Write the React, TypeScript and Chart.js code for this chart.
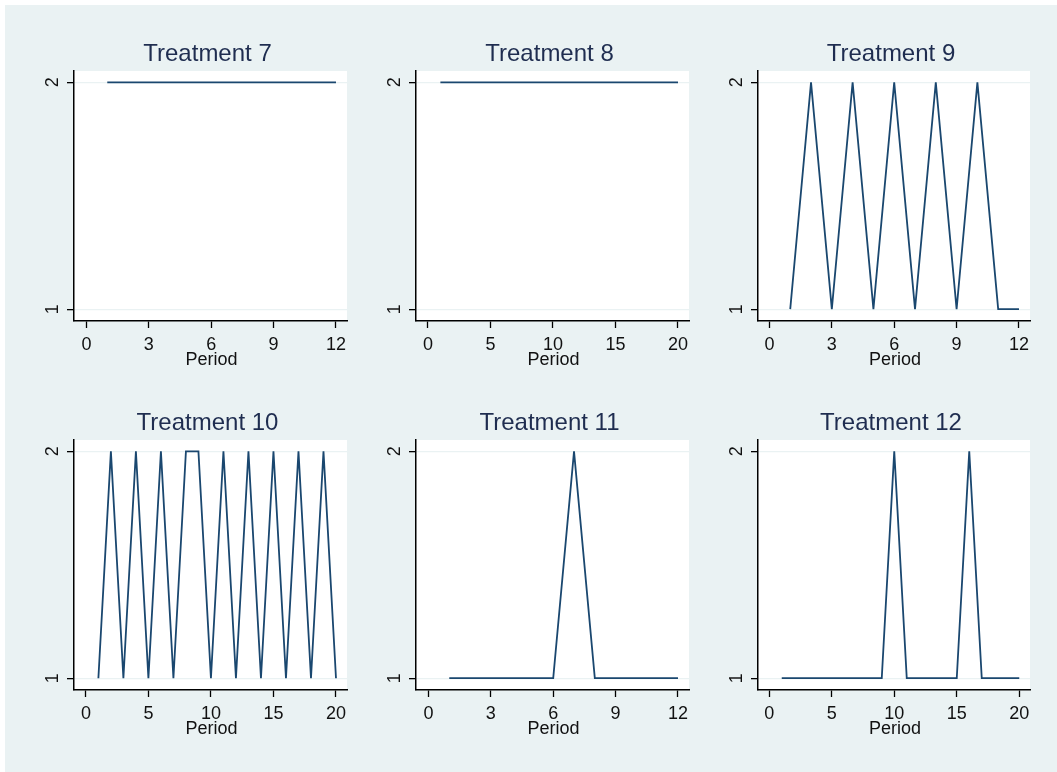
import React, { useEffect, useRef } from "react";
import { Chart, registerables } from "chart.js";

Chart.register(...registerables);

// ---------- data ----------
const periods12 = [1, 2, 3, 4, 5, 6, 7, 8, 9, 10, 11, 12];
const periods20 = [1, 2, 3, 4, 5, 6, 7, 8, 9, 10, 11, 12, 13, 14, 15, 16, 17, 18, 19, 20];

const treatment7 = [2, 2, 2, 2, 2, 2, 2, 2, 2, 2, 2, 2];
const treatment8 = [2, 2, 2, 2, 2, 2, 2, 2, 2, 2, 2, 2, 2, 2, 2, 2, 2, 2, 2, 2];
const treatment9 = [1, 2, 1, 2, 1, 2, 1, 2, 1, 2, 1, 1];
const treatment10 = [1, 2, 1, 2, 1, 2, 1, 2, 2, 1, 2, 1, 2, 1, 2, 1, 2, 1, 2, 1];
const treatment11 = [1, 1, 1, 1, 1, 1, 2, 1, 1, 1, 1, 1];
const treatment12 = [1, 1, 1, 1, 1, 1, 1, 1, 1, 2, 1, 1, 1, 1, 1, 2, 1, 1, 1, 1];

const xTicks12 = [0, 3, 6, 9, 12];
const xTicks20 = [0, 5, 10, 15, 20];
const yTicks = [1, 2];

const panelTitles = ["Treatment 7", "Treatment 8", "Treatment 9", "Treatment 10", "Treatment 11", "Treatment 12"];
const xAxisTitle = "Period";

// ---------- layout / style ----------
const FONT = "'Liberation Sans', Arial, sans-serif";
const BG = "#EAF2F3";
const LINE = "#1a476f";
const colLeft = [74, 416, 758];
const colWidth = [273, 273, 272];
const rowTop = [71, 440];
const rowHeight = [250, 250];
const PAD_L = 60;
const PAD_T = 65;
const PAD_R = 12;
const PAD_B = 60;

type Panel = {
  title: string;
  periods: number[];
  values: number[];
  xTicks: number[];
  xMin: number;
  xMax: number;
  col: number;
  row: number;
};

const panels: Panel[] = [
  { title: panelTitles[0], periods: periods12, values: treatment7, xTicks: xTicks12, xMin: -0.6, xMax: 12.53, col: 0, row: 0 },
  { title: panelTitles[1], periods: periods20, values: treatment8, xTicks: xTicks20, xMin: -0.95, xMax: 20.88, col: 1, row: 0 },
  { title: panelTitles[2], periods: periods12, values: treatment9, xTicks: xTicks12, xMin: -0.55, xMax: 12.53, col: 2, row: 0 },
  { title: panelTitles[3], periods: periods20, values: treatment10, xTicks: xTicks20, xMin: -0.95, xMax: 20.88, col: 0, row: 1 },
  { title: panelTitles[4], periods: periods12, values: treatment11, xTicks: xTicks12, xMin: -0.6, xMax: 12.53, col: 1, row: 1 },
  { title: panelTitles[5], periods: periods20, values: treatment12, xTicks: xTicks20, xMin: -0.9, xMax: 20.86, col: 2, row: 1 },
];

const textPlugin = {
  id: "stataText",
  beforeDraw(chart: any) {
    const { ctx, chartArea } = chart;
    ctx.save();
    ctx.fillStyle = "#ffffff";
    ctx.fillRect(chartArea.left, chartArea.top, chartArea.right - chartArea.left, chartArea.bottom - chartArea.top);
    ctx.restore();
  },
  afterDraw(chart: any) {
    const { ctx, chartArea } = chart;
    const opts = chart.options.plugins.stataText;
    const xs = chart.scales.x;
    const ys = chart.scales.y;
    const cx = (chartArea.left + chartArea.right) / 2;
    ctx.save();
    // title
    ctx.fillStyle = "#1f2d50";
    ctx.font = `24px ${FONT}`;
    ctx.textAlign = "center";
    ctx.textBaseline = "alphabetic";
    ctx.fillText(opts.title, cx - 3, chartArea.top - 10);
    // x tick labels
    ctx.fillStyle = "#111111";
    ctx.font = `18px ${FONT}`;
    xs.ticks.forEach((t: any) => {
      ctx.fillText(String(t.value), xs.getPixelForValue(t.value), chartArea.bottom + 28.5);
    });
    // axis title
    ctx.fillText(xAxisTitle, cx + 1, chartArea.bottom + 44);
    // y tick labels (rotated)
    ys.ticks.forEach((t: any) => {
      const py = ys.getPixelForValue(t.value);
      ctx.save();
      ctx.translate(chartArea.left - 16.5, py);
      ctx.rotate(-Math.PI / 2);
      ctx.textAlign = "center";
      ctx.textBaseline = "alphabetic";
      ctx.fillText(String(t.value), 0, 0);
      ctx.restore();
    });
    ctx.restore();
  },
};

function PanelChart({ p }: { p: Panel }) {
  const ref = useRef<HTMLCanvasElement>(null);
  const w = colWidth[p.col];
  const h = rowHeight[p.row];
  const cw = w + PAD_L + PAD_R;
  const chh = h + PAD_T + PAD_B;
  useEffect(() => {
    if (!ref.current) return;
    const chart = new Chart(ref.current, {
      type: "line",
      data: {
        datasets: [
          {
            data: p.periods.map((x, i) => ({ x, y: p.values[i] })),
            borderColor: LINE,
            borderWidth: 1.8,
            pointRadius: 0,
            tension: 0,
            fill: false,
          },
        ],
      },
      options: {
        animation: false,
        responsive: false,
        events: [],
        layout: { autoPadding: false, padding: { top: PAD_T, right: PAD_R, left: 0, bottom: 0 } },
        plugins: {
          legend: { display: false },
          tooltip: { enabled: false },
          title: { display: false },
          stataText: { title: p.title },
        } as any,
        scales: {
          x: {
            type: "linear",
            min: p.xMin,
            max: p.xMax,
            afterBuildTicks: (s: any) => {
              s.ticks = p.xTicks.map((v) => ({ value: v }));
            },
            afterFit: (s: any) => {
              s.height = PAD_B;
            },
            ticks: { display: false },
            grid: {
              display: true,
              drawOnChartArea: false,
              drawTicks: true,
              tickLength: 7,
              tickColor: "#000000",
              tickWidth: 1.3,
              color: "#000000",
            },
            border: { display: true, color: "#000000", width: 1.5 },
          },
          y: {
            type: "linear",
            min: 0.948,
            max: 2.05,
            afterBuildTicks: (s: any) => {
              s.ticks = yTicks.map((v) => ({ value: v }));
            },
            afterFit: (s: any) => {
              s.width = PAD_L;
            },
            ticks: { display: false },
            grid: {
              display: true,
              drawOnChartArea: true,
              drawTicks: true,
              tickLength: 7,
              color: BG,
              lineWidth: 1.3,
              tickColor: "#000000",
              tickWidth: 1.3,
            },
            border: { display: true, color: "#000000", width: 1.5 },
          },
        },
      } as any,
      plugins: [textPlugin],
    });
    return () => chart.destroy();
  }, []);
  return (
    <canvas
      ref={ref}
      width={cw}
      height={chh}
      style={{
        position: "absolute",
        left: colLeft[p.col] - PAD_L,
        top: rowTop[p.row] - PAD_T,
        width: cw,
        height: chh,
      }}
    />
  );
}

export default function App() {
  return (
    <div style={{ position: "fixed", left: 0, top: 0, width: 1057, height: 772, background: "#ffffff", overflow: "hidden" }}>
      <div style={{ position: "absolute", left: 5, top: 5, width: 1052, height: 767, background: BG }} />
      {panels.map((p, i) => (
        <PanelChart key={i} p={p} />
      ))}
    </div>
  );
}
